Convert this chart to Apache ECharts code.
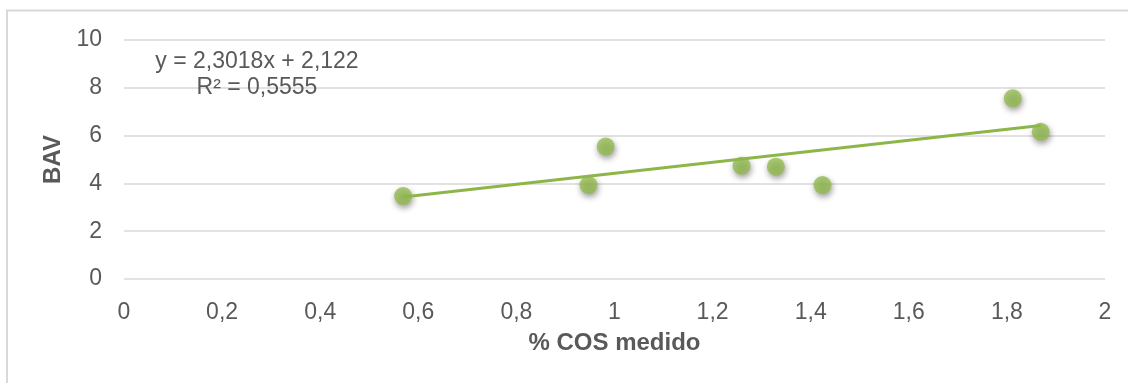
<!DOCTYPE html>
<html>
<head>
<meta charset="utf-8">
<title>BAV vs % COS medido</title>
<script src="https://cdn.jsdelivr.net/npm/echarts@6/dist/echarts.min.js"></script>
<style>
  html, body { margin: 0; padding: 0; background: #ffffff; }
  #chart { width: 1128px; height: 383px; }
</style>
</head>
<body>
<div id="chart"></div>
<script>
// Measured samples: % COS (x) against BAV (y)
var cosMedido = [0.569, 0.947, 0.982, 1.259, 1.329, 1.424, 1.812, 1.869];
var bav       = [3.47, 3.93, 5.54, 4.74, 4.70, 3.93, 7.56, 6.16];

// Linear fit as reported on the chart
var slope = 2.3018;
var intercept = 2.122;
var rSquared = 0.5555;

// Axis ticks
var xTicks = [0, 0.2, 0.4, 0.6, 0.8, 1, 1.2, 1.4, 1.6, 1.8, 2];
var yTicks = [0, 2, 4, 6, 8, 10];

function decimalComma(v) {
  return String(v).replace('.', ',');
}

var points = cosMedido.map(function (x, i) { return [x, bav[i]]; });
var xMin = Math.min.apply(null, cosMedido);
var xMax = Math.max.apply(null, cosMedido);
var trend = [xMin, xMax].map(function (x) { return [x, slope * x + intercept]; });

var textColor = '#595959';
var green = '#93BC4F';
var font = 'Liberation Sans, Arial, sans-serif';

var chart = echarts.init(document.getElementById('chart'), null, { renderer: 'canvas' });

chart.setOption({
  animation: false,
  backgroundColor: '#ffffff',
  grid: { left: 124, right: 23, top: 40, bottom: 104 },
  xAxis: {
    type: 'value',
    min: xTicks[0],
    max: xTicks[xTicks.length - 1],
    interval: xTicks[1] - xTicks[0],
    name: '% COS medido',
    nameLocation: 'middle',
    nameGap: 52,
    nameTextStyle: { color: textColor, fontSize: 24, fontWeight: 'bold', fontFamily: font },
    axisLine: { show: false },
    axisTick: { show: false },
    splitLine: { show: false },
    axisLabel: {
      color: textColor, fontSize: 23, fontFamily: font, margin: 22,
      formatter: function (v) { return decimalComma(+v.toFixed(1)); }
    }
  },
  yAxis: {
    type: 'value',
    min: yTicks[0],
    max: yTicks[yTicks.length - 1],
    interval: yTicks[1] - yTicks[0],
    name: 'BAV',
    nameLocation: 'middle',
    nameGap: 57,
    nameTextStyle: { color: textColor, fontSize: 24, fontWeight: 'bold', fontFamily: font },
    axisLine: { show: false },
    axisTick: { show: false },
    splitLine: { show: true, lineStyle: { color: '#d9d9d9', width: 1.5 } },
    axisLabel: {
      color: textColor, fontSize: 23, fontFamily: font, margin: 22,
      formatter: function (v) { return decimalComma(v); }
    }
  },
  graphic: [
    {
      type: 'rect',
      silent: true,
      shape: { x: 7, y: 10.5, width: 1400, height: 600 },
      style: { fill: 'none', stroke: '#d9d9d9', lineWidth: 2 },
      z: -1
    },
    {
      type: 'text',
      silent: true,
      z: 100,
      style: {
        text: 'y = ' + decimalComma(slope) + 'x + ' + decimalComma(intercept) +
              '\nR² = ' + decimalComma(rSquared),
        x: 257,
        y: 75,
        align: 'center',
        verticalAlign: 'middle',
        lineHeight: 26,
        fill: textColor,
        fontSize: 23,
        fontFamily: font
      }
    }
  ],
  series: [
    {
      name: 'BAV',
      type: 'scatter',
      data: points,
      symbol: 'circle',
      symbolSize: 18,
      z: 2,
      itemStyle: {
        color: green,
        shadowColor: 'rgba(0,0,0,0.5)',
        shadowBlur: 6,
        shadowOffsetX: 1,
        shadowOffsetY: 3
      }
    },
    {
      name: 'Lineal',
      type: 'line',
      data: trend,
      symbol: 'none',
      z: 3,
      lineStyle: { color: '#8DB649', width: 3 }
    }
  ]
});
</script>
</body>
</html>
